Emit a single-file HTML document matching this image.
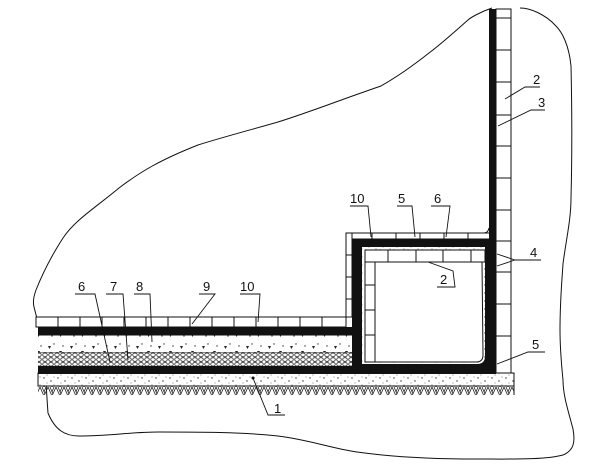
<!DOCTYPE html>
<html><head><meta charset="utf-8"><style>
html,body{margin:0;padding:0;background:#fff;}
svg{display:block;}
text{font-family:"Liberation Sans",sans-serif;font-size:13px;fill:#111;}
</style></head><body>
<svg width="615" height="468" viewBox="0 0 615 468" xmlns="http://www.w3.org/2000/svg">
<defs>
<pattern id="sand" width="14" height="8" patternUnits="userSpaceOnUse">
<rect width="14" height="8" fill="#fff"/>
<circle cx="2" cy="2" r="0.7" fill="#333"/><circle cx="9" cy="5" r="0.7" fill="#333"/><circle cx="5" cy="7" r="0.5" fill="#555"/><circle cx="12" cy="1" r="0.5" fill="#555"/>
</pattern>
<pattern id="conc" width="22" height="17" patternUnits="userSpaceOnUse">
<rect width="22" height="17" fill="#fff"/>
<path d="M4 6 l3 0 l-1.5 3z M15 11 l3 0 l-1.5 3z" fill="#222"/>
<circle cx="10" cy="4" r="0.7" fill="#333"/><circle cx="19" cy="6" r="0.7" fill="#333"/><circle cx="8" cy="13" r="0.7" fill="#333"/>
</pattern>
<pattern id="grav" width="6" height="4.7" patternUnits="userSpaceOnUse">
<rect width="6" height="4.7" fill="#fff"/>
<ellipse cx="3" cy="2.35" rx="2.3" ry="1.8" fill="#fff" stroke="#222" stroke-width="0.8"/>
</pattern>
<pattern id="hatch" width="8" height="9" patternUnits="userSpaceOnUse">
<path d="M0 0 L4 9 M4 9 L8 0 M2 0 L5 7 M6 0 L4 5" stroke="#222" stroke-width="0.8" fill="none"/>
</pattern>
</defs>

<path d="M492 8 C480 12 470 18 468 20 C450 36 440 45 429 53 C410 68 395 78 381 86 C340 100 310 112 278 122 C250 130 220 138 198 145 C160 160 140 172 119 188 C95 208 75 220 63 238 C50 258 42 275 36 290 C33 298 33 303 34 307 C40 330 44 345 44 356 C46 380 47 400 48 413 C55 430 65 436 79 436 C110 436 130 432 159 432 C200 432 240 432 278 436 C310 440 330 448 357 452 C400 458 440 459 476 459 C510 459 545 460 563 455 C575 450 575 440 573 429 C568 410 563 395 563 380 C561 360 560 345 560 330 C560 300 562 280 563 264 C566 240 571 220 571 198 C572 160 572 110 571 66 C569 45 562 32 556 26 C545 14 530 8 520 8" fill="none" stroke="#111" stroke-width="1"/>

<rect x="38" y="386" width="476" height="9" fill="url(#hatch)"/>
<rect x="38" y="373" width="476" height="13" fill="url(#sand)" stroke="#111" stroke-width="1"/>
<rect x="38" y="366" width="458" height="8" fill="#111"/>
<rect x="38" y="352" width="316" height="14" fill="url(#grav)"/>
<line x1="38" y1="352" x2="354" y2="352" stroke="#111"/>
<rect x="38" y="335" width="316" height="17" fill="url(#conc)"/>
<line x1="38" y1="335" x2="354" y2="335" stroke="#111"/>
<rect x="38" y="327" width="316" height="8" fill="#111"/>
<rect x="36" y="317" width="310" height="10" fill="#fff" stroke="#111" stroke-width="1"/>
<g stroke="#111" stroke-width="1">
<line x1="58" y1="317" x2="58" y2="327"/><line x1="80" y1="317" x2="80" y2="327"/><line x1="102" y1="317" x2="102" y2="327"/><line x1="124" y1="317" x2="124" y2="327"/><line x1="146" y1="317" x2="146" y2="327"/><line x1="168" y1="317" x2="168" y2="327"/><line x1="190" y1="317" x2="190" y2="327"/><line x1="212" y1="317" x2="212" y2="327"/><line x1="234" y1="317" x2="234" y2="327"/><line x1="256" y1="317" x2="256" y2="327"/><line x1="278" y1="317" x2="278" y2="327"/><line x1="300" y1="317" x2="300" y2="327"/><line x1="322" y1="317" x2="322" y2="327"/>
</g>
<path d="M346 317 L346 233 L484 233 Q488 233 489 228" fill="none" stroke="#111"/>
<rect x="346" y="233" width="6" height="84" fill="#fff" stroke="#111"/>
<g stroke="#111"><line x1="346" y1="255" x2="352" y2="255"/><line x1="346" y1="277" x2="352" y2="277"/><line x1="346" y1="299" x2="352" y2="299"/>
<line x1="352" y1="233" x2="489" y2="233"/><line x1="352" y1="239" x2="489" y2="239"/>
<line x1="372" y1="233" x2="372" y2="239"/><line x1="396" y1="233" x2="396" y2="239"/><line x1="420" y1="233" x2="420" y2="239"/><line x1="444" y1="233" x2="444" y2="239"/><line x1="468" y1="233" x2="468" y2="239"/></g>
<path d="M352 239 L496 239 L496 374 L352 374 Z" fill="#111"/>
<path d="M362 247 L485 247 L485 356 Q485 364 477 364 L362 364 Z" fill="url(#sand)"/>
<rect x="365" y="250" width="120" height="12" fill="#fff" stroke="#111"/>
<g stroke="#111"><line x1="388" y1="250" x2="388" y2="262"/><line x1="416" y1="250" x2="416" y2="262"/><line x1="443" y1="250" x2="443" y2="262"/><line x1="471" y1="250" x2="471" y2="262"/></g>
<rect x="365" y="262" width="10" height="100" fill="#fff" stroke="#111"/>
<g stroke="#111"><line x1="365" y1="285" x2="375" y2="285"/><line x1="365" y1="310" x2="375" y2="310"/><line x1="365" y1="335" x2="375" y2="335"/></g>
<path d="M375 262 L482 262 L483 355 Q483 362 476 362 L375 362 Z" fill="#fff" stroke="#111"/>
<rect x="489" y="9" width="7" height="235" fill="#111"/>
<rect x="496" y="9" width="15" height="364" fill="#fff" stroke="#111"/>
<g stroke="#111">
<line x1="496" y1="18" x2="511" y2="18"/><line x1="496" y1="50" x2="511" y2="50"/><line x1="496" y1="82" x2="511" y2="82"/><line x1="496" y1="115" x2="511" y2="115"/><line x1="496" y1="146" x2="511" y2="146"/><line x1="496" y1="178" x2="511" y2="178"/><line x1="496" y1="210" x2="511" y2="210"/><line x1="496" y1="241" x2="511" y2="241"/><line x1="496" y1="272" x2="511" y2="272"/><line x1="496" y1="304" x2="511" y2="304"/><line x1="496" y1="336" x2="511" y2="336"/>
<line x1="511" y1="373" x2="514" y2="373"/><line x1="514" y1="373" x2="514" y2="395"/>
</g>

<g stroke="#111" stroke-width="0.9" fill="none">
<path d="M75 294 L95 294 L110 362"/><path d="M106 294 L123 294 L128 360"/><path d="M134 294 L150 294 L152 342"/>
<path d="M199 294 L215 294 L192 324"/><path d="M240 294 L260 294 L258 322"/>
<path d="M350 206 L368 206 L371 237"/><path d="M397 206 L412 206 L415 237"/><path d="M431 206 L450 206 L446 237"/>
<path d="M540 87 L525 87 L505 99"/><path d="M545 110 L531 110 L498 126"/>
<path d="M541 260 L515 260 L497 254 M515 260 L497 266"/>
<path d="M437 287 L455 287 L453 271 L428 262"/>
<path d="M545 352 L528 352 L497 364"/>
<path d="M285 415 L268 415 L253 378"/>
</g>
<circle cx="253" cy="378" r="1.5" fill="#111"/>
<text x="78" y="291">6</text><text x="110" y="291">7</text><text x="136" y="291">8</text><text x="203" y="291">9</text><text x="240" y="291">10</text>
<text x="350" y="203">10</text><text x="398" y="203">5</text><text x="434" y="203">6</text>
<text x="533" y="84">2</text><text x="538" y="107">3</text><text x="530" y="257">4</text>
<text x="440" y="284">2</text><text x="532" y="349">5</text><text x="274" y="413">1</text>
</svg>
</body></html>
